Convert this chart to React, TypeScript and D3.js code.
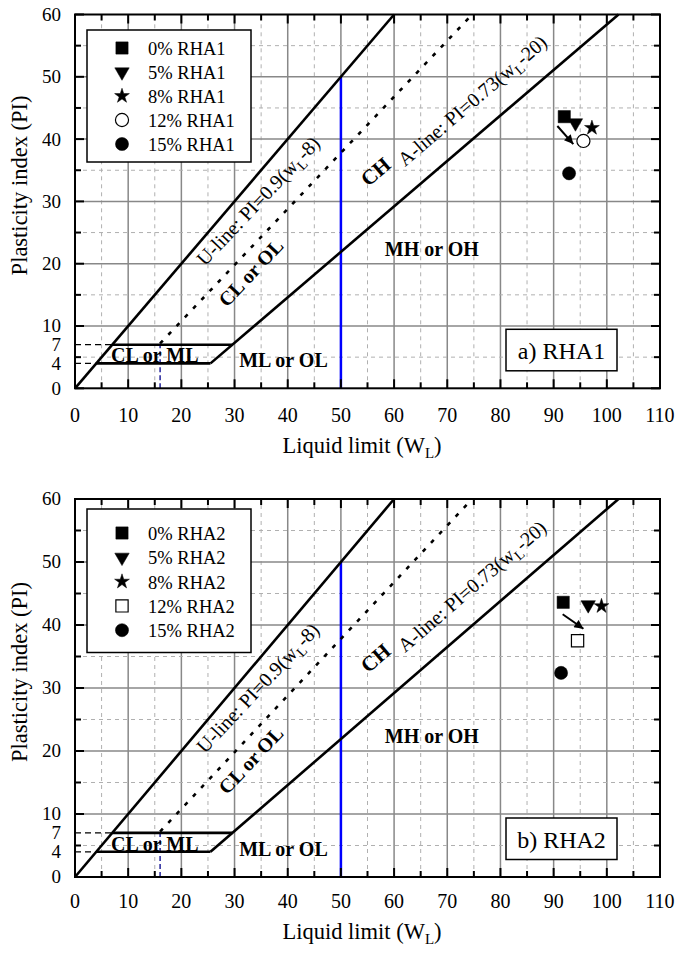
import React from "react";
import * as d3 from "d3";

// axis ticks
const xTickLabels = [0, 10, 20, 30, 40, 50, 60, 70, 80, 90, 100, 110];
const yTickLabels = [0, 4, 7, 10, 20, 30, 40, 50, 60];

// chart boundary lines (wL, PI)
const upperLine = [[0, 0], [60, 60]];
const aLine = [[25.48, 4], [102.2, 60]];
const uLine = [[16, 7.2], [74.67, 60]];
const clmlTop = [[7, 7], [29.59, 7]];
const clmlBottom = [[4, 4], [25.48, 4]];
const guide7 = [[0, 7], [7, 7]];
const guide4 = [[0, 4], [4, 4]];
const guide16 = [[16, 0], [16, 7.2]];
const line50 = [[50, 0], [50, 50]];

// zone names
const zoneNames = ["CL or ML", "ML or OL", "MH or OH", "CL or OL", "CH"];
const zoneAt = [[15.0, 4.2], [39.2, 3.4], [67.1, 21.3], [34.0, 17.8], [57.4, 33.9]];
const zoneAlong = ["none", "none", "none", "u", "a"];

// RHA1 series
const rha1Labels = ["0% RHA1", "5% RHA1", "8% RHA1", "12% RHA1", "15% RHA1"];
const rha1LL = [92.0, 94.1, 97.2, 95.6, 92.9];
const rha1PI = [43.6, 42.6, 41.8, 39.7, 34.5];
const rha1Symbols = ["square", "triDown", "star", "circleOpen", "circle"];
const rha1Arrow = [[90.7, 42.1], [93.7, 39.2]];

// RHA2 series
const rha2Labels = ["0% RHA2", "5% RHA2", "8% RHA2", "12% RHA2", "15% RHA2"];
const rha2LL = [91.8, 96.5, 99.0, 94.5, 91.4];
const rha2PI = [43.6, 43.2, 43.0, 37.5, 32.4];
const rha2Symbols = ["square", "triDown", "star", "squareOpen", "circle"];
const rha2Arrow = [[91.7, 41.7], [95.6, 39.4]];

const FONT = "'Liberation Serif', 'Times New Roman', serif";

function symbolPath(kind: string) {
  if (kind === "square" || kind === "squareOpen") return d3.symbol(d3.symbolSquare, 150)();
  if (kind === "triDown") return d3.symbol(d3.symbolTriangle, 90)();
  if (kind === "star") return d3.symbol(d3.symbolStar, 68)();
  return d3.symbol(d3.symbolCircle, 135)();
}

function Marker({ kind, cx, cy }: { kind: string; cx: number; cy: number }) {
  const open = kind.endsWith("Open");
  const rot = kind === "triDown" ? " rotate(180)" : "";
  return (
    <path
      d={symbolPath(kind) || ""}
      transform={`translate(${cx},${cy})${rot}`}
      fill={open ? "#fff" : "#000"}
      stroke="#000"
      strokeWidth={open ? 1.2 : 0.5}
    />
  );
}

function Panel({ id, top, bottom, labels, ll, pi, symbols, arrow, tag, legend, tickGap, titleGap }: any) {
  const x = d3.scaleLinear().domain([0, 110]).range([75, 660]);
  const y = d3.scaleLinear().domain([0, 60]).range([bottom, top]);
  const line = d3.line<number[]>().x((d) => x(d[0])).y((d) => y(d[1]));
  const angle = (slope: number) =>
    (-Math.atan2(y(0) - y(slope * 10), x(10) - x(0)) * 180) / Math.PI;
  const uAng = angle(0.9);
  const aAng = angle(0.73);
  const steps = d3.range(0, 111, 5);
  const ySteps = d3.range(0, 61, 5);

  const [ax0, ay0] = [x(arrow[0][0]), y(arrow[0][1])];
  const [ax1, ay1] = [x(arrow[1][0]), y(arrow[1][1])];

  return (
    <g>
      <defs>
        <marker id={`ah${id}`} viewBox="0 0 10 10" refX="10" refY="5" markerWidth="11" markerHeight="9"
          markerUnits="userSpaceOnUse" orient="auto">
          <path d="M0,0 L10,5 L0,10 Z" fill="#000" />
        </marker>
      </defs>
      {/* grid */}
      {steps.filter((v) => v > 0 && v < 110).map((v) => (
        <line key={`gx${v}`} x1={x(v)} x2={x(v)} y1={y(0)} y2={y(60)}
          stroke={v % 10 === 0 ? "#888" : "#b0b0b0"} strokeWidth={v % 10 === 0 ? 1.5 : 1}
          strokeDasharray={v % 10 === 0 ? undefined : "4,4"} />
      ))}
      {ySteps.filter((v) => v > 0 && v < 60).map((v) => (
        <line key={`gy${v}`} y1={y(v)} y2={y(v)} x1={x(0)} x2={x(110)}
          stroke={v % 10 === 0 ? "#888" : "#b0b0b0"} strokeWidth={v % 10 === 0 ? 1.5 : 1}
          strokeDasharray={v % 10 === 0 ? undefined : "4,4"} />
      ))}

      {/* guides */}
      <path d={line(guide7 as any) || ""} stroke="#000" strokeWidth={1.3} strokeDasharray="6,4" fill="none" />
      <path d={line(guide4 as any) || ""} stroke="#000" strokeWidth={1.3} strokeDasharray="6,4" fill="none" />
      <path d={line(guide16 as any) || ""} stroke="#00008b" strokeWidth={1.3} strokeDasharray="5,3" fill="none" />
      <path d={line(line50 as any) || ""} stroke="#0000ff" strokeWidth={2.5} fill="none" />

      {/* boundary lines */}
      {[upperLine, aLine, clmlTop, clmlBottom].map((l, i) => (
        <path key={`b${i}`} d={line(l as any) || ""} stroke="#000" strokeWidth={2.6} fill="none" />
      ))}
      <path d={line(uLine as any) || ""} stroke="#000" strokeWidth={2.6} strokeDasharray="4,8" fill="none" />

      {/* axes frame and ticks */}
      <rect x={x(0)} y={y(60)} width={x(110) - x(0)} height={y(0) - y(60)} fill="none" stroke="#000" strokeWidth={2} />
      {steps.map((v) => {
        const len = v % 10 === 0 ? 9 : 6;
        return (
          <g key={`tx${v}`}>
            <line x1={x(v)} x2={x(v)} y1={y(0)} y2={y(0) - len} stroke="#000" strokeWidth={2} />
            <line x1={x(v)} x2={x(v)} y1={y(60)} y2={y(60) + len} stroke="#000" strokeWidth={2} />
          </g>
        );
      })}
      {ySteps.map((v) => {
        const len = v % 10 === 0 ? 9 : 6;
        return (
          <g key={`ty${v}`}>
            <line y1={y(v)} y2={y(v)} x1={x(0)} x2={x(0) + len} stroke="#000" strokeWidth={2} />
            <line y1={y(v)} y2={y(v)} x1={x(110)} x2={x(110) - len} stroke="#000" strokeWidth={2} />
          </g>
        );
      })}
      {xTickLabels.map((v) => (
        <text key={`xl${v}`} x={x(v)} y={y(0) + tickGap} textAnchor="middle" fontSize={20}>{v}</text>
      ))}
      {yTickLabels.map((v) => (
        <text key={`yl${v}`} x={61} y={y(v)} dy="0.34em" textAnchor="end" fontSize={19}>{v}</text>
      ))}
      <text x={362} y={y(0) + titleGap} textAnchor="middle" fontSize={22.5}>
        Liquid limit (W<tspan fontSize={15} dy={5}>L</tspan><tspan dy={-5}>)</tspan>
      </text>
      <text transform={`translate(27,${(top + bottom) / 2 - 16}) rotate(-90)`} textAnchor="middle" fontSize={22.5}>
        Plasticity index (PI)
      </text>

      {/* zone labels */}
      {zoneNames.map((n, i) => {
        const px = x(zoneAt[i][0]);
        const py = y(zoneAt[i][1]);
        const r = zoneAlong[i] === "u" ? uAng : zoneAlong[i] === "a" ? aAng : 0;
        return (
          <text key={n} transform={`translate(${px},${py}) rotate(${r})`} textAnchor="middle"
            fontSize={i === 4 ? 21 : 20} fontWeight="bold">{n}</text>
        );
      })}
      <text transform={`translate(${x(24.45)},${y(19.5)}) rotate(${uAng})`} fontSize={20}>
        U-line: PI=0.9(w<tspan fontSize={14} dy={5}>L</tspan><tspan dy={-5}>-8)</tspan>
      </text>
      <text transform={`translate(${x(62.05)},${y(35.5)}) rotate(${aAng})`} fontSize={20}>
        A-line: PI=0.73(w<tspan fontSize={14} dy={5}>L</tspan><tspan dy={-5}>-20)</tspan>
      </text>

      {/* legend */}
      <rect x={87} y={top + legend.boxTop} width={164} height={legend.boxH} fill="#fff" stroke="#000" strokeWidth={1.5} />
      {labels.map((lab: string, i: number) => {
        const cy = top + legend.row0 + i * legend.gap;
        return (
          <g key={lab}>
            <Marker kind={symbols[i]} cx={122} cy={cy} />
            <text x={148} y={cy + 7} fontSize={18.5}>{lab}</text>
          </g>
        );
      })}

      {/* tag box */}
      <rect x={506} y={bottom - 59} width={111} height={41.5} fill="#fff" stroke="#000" strokeWidth={1.5} />
      <text x={561.5} y={bottom - 29} textAnchor="middle" fontSize={24}>{tag}</text>

      {/* data */}
      <line x1={ax0} y1={ay0} x2={ax1} y2={ay1} stroke="#000" strokeWidth={2} markerEnd={`url(#ah${id})`} />
      {ll.map((v: number, i: number) => (
        <Marker key={`p${i}`} kind={symbols[i]} cx={x(v)} cy={y(pi[i])} />
      ))}
    </g>
  );
}

export default function App() {
  return (
    <svg width={679} height={954} style={{ position: "absolute", left: 0, top: 0, background: "#fff" }}
      fontFamily={FONT}>
      <rect width={679} height={954} fill="#fff" />
      <Panel id={1} top={14.5} bottom={388.3} labels={rha1Labels} ll={rha1LL} pi={rha1PI}
        symbols={rha1Symbols} arrow={rha1Arrow} tag="a) RHA1"
        legend={{ boxTop: 15.5, boxH: 132, row0: 33.5, gap: 24 }} tickGap={33.5} titleGap={65} />
      <Panel id={2} top={499} bottom={877} labels={rha2Labels} ll={rha2LL} pi={rha2PI}
        symbols={rha2Symbols} arrow={rha2Arrow} tag="b) RHA2"
        legend={{ boxTop: 10, boxH: 143.5, row0: 34, gap: 24.3 }} tickGap={31} titleGap={62} />
    </svg>
  );
}
